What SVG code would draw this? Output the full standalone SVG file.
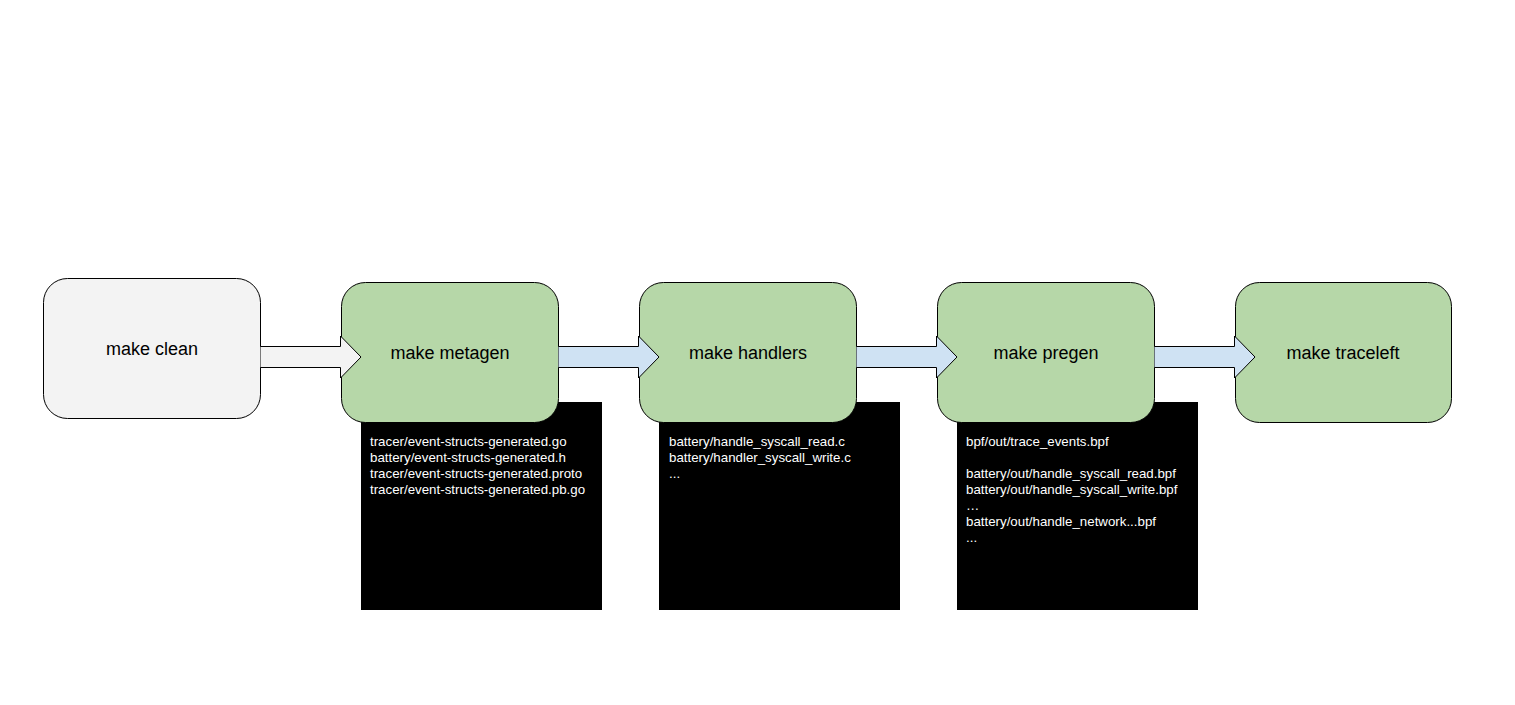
<svg xmlns="http://www.w3.org/2000/svg" width="1515" height="705" viewBox="0 0 1515 705">
<style>
.node{stroke:#000;stroke-width:1}
.green{fill:#b6d7a8}
.gray{fill:#f3f3f3}
.lbl{font-family:"Liberation Sans",Arial,sans-serif;font-size:18px;fill:#000;text-anchor:middle}
.out{fill:#000}
.files{font-family:"Liberation Sans",Arial,sans-serif;font-size:13.3px;fill:#fff}
.arr{stroke:#000;stroke-width:1;stroke-linejoin:miter}
.arr-gray{fill:#f3f3f3}
.arr-blue{fill:#cfe2f3}
</style>
<rect width="1515" height="705" fill="#fff"/>
<g id="outputs">
<g id="out-metagen">
<rect class="out" x="361" y="402" width="241" height="208"/>
<text class="files" x="370" y="446">tracer/event-structs-generated.go</text>
<text class="files" x="370" y="462">battery/event-structs-generated.h</text>
<text class="files" x="370" y="478">tracer/event-structs-generated.proto</text>
<text class="files" x="370" y="494">tracer/event-structs-generated.pb.go</text>
</g>
<g id="out-handlers">
<rect class="out" x="659" y="402" width="241" height="208"/>
<text class="files" x="669" y="446">battery/handle_syscall_read.c</text>
<text class="files" x="669" y="462">battery/handler_syscall_write.c</text>
<text class="files" x="669" y="478">...</text>
</g>
<g id="out-pregen">
<rect class="out" x="957" y="402" width="241" height="208"/>
<text class="files" x="966" y="446">bpf/out/trace_events.bpf</text>
<text class="files" x="966" y="478">battery/out/handle_syscall_read.bpf</text>
<text class="files" x="966" y="494">battery/out/handle_syscall_write.bpf</text>
<text class="files" x="966" y="510">…</text>
<text class="files" x="966" y="526">battery/out/handle_network...bpf</text>
<text class="files" x="966" y="542">...</text>
</g>
</g>
<g id="clean">
<rect class="node gray" x="43.5" y="278.5" width="217" height="140" rx="24"/>
<text class="lbl" x="152" y="355">make clean</text>
</g>
<g id="metagen">
<rect class="node green" x="341.5" y="282.5" width="217" height="140" rx="24"/>
<text class="lbl" x="450" y="359">make metagen</text>
</g>
<g id="handlers">
<rect class="node green" x="639.5" y="282.5" width="217" height="140" rx="24"/>
<text class="lbl" x="748" y="359">make handlers</text>
</g>
<g id="pregen">
<rect class="node green" x="937.5" y="282.5" width="217" height="140" rx="24"/>
<text class="lbl" x="1046" y="359">make pregen</text>
</g>
<g id="traceleft">
<rect class="node green" x="1235.5" y="282.5" width="216" height="140" rx="24"/>
<text class="lbl" x="1343" y="359">make traceleft</text>
</g>
<g id="connectors">
<path class="arr arr-gray" d="M260.5 346.5 H340.5 V336 L361 357 L340.5 378 V367.5 H260.5"/>
<path class="arr arr-blue" d="M558.5 346.5 H638.5 V336 L659 357 L638.5 378 V367.5 H558.5"/>
<path class="arr arr-blue" d="M856.5 346.5 H936.5 V336 L957 357 L936.5 378 V367.5 H856.5"/>
<path class="arr arr-blue" d="M1154.5 346.5 H1234.5 V336 L1255 357 L1234.5 378 V367.5 H1154.5"/>
</g>
</svg>
